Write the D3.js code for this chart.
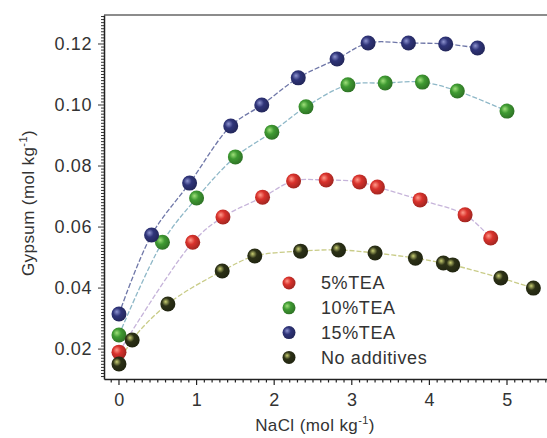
<!DOCTYPE html>
<html>
<head>
<meta charset="utf-8">
<script src="https://cdn.jsdelivr.net/npm/d3@7"></script>
<style>
	body { margin: 0; background: #fff; }
	svg { display: block; font-family: "Liberation Sans", Arial, sans-serif; }
</style>
</head>
<body>
<svg id="chart"></svg>
<script>
const seriesNames = ["5%TEA", "10%TEA", "15%TEA", "No additives"];

const naclRed = [0, 0.95, 1.34, 1.85, 2.25, 2.67, 3.10, 3.33, 3.88, 4.46, 4.79];
const gypRed = [0.019, 0.055, 0.0633, 0.0698, 0.0751, 0.0754, 0.0748, 0.0731, 0.0689, 0.064, 0.0564];

const naclGreen = [0, 0.56, 1.0, 1.5, 1.97, 2.41, 2.95, 3.43, 3.91, 4.36, 5.0];
const gypGreen = [0.0246, 0.055, 0.0695, 0.083, 0.0911, 0.0994, 0.1066, 0.1072, 0.1075, 0.1046, 0.098];

const naclBlue = [0, 0.42, 0.91, 1.44, 1.84, 2.31, 2.81, 3.21, 3.73, 4.21, 4.62];
const gypBlue = [0.0315, 0.0574, 0.0744, 0.0931, 0.100, 0.1089, 0.1151, 0.1203, 0.1203, 0.12, 0.1187];

const naclNone = [0, 0.17, 0.63, 1.33, 1.75, 2.34, 2.83, 3.30, 3.82, 4.18, 4.30, 4.92, 5.34];
const gypNone = [0.0151, 0.023, 0.0348, 0.0456, 0.0505, 0.0521, 0.0525, 0.0515, 0.0498, 0.0482, 0.0476, 0.0433, 0.04];

const xTicks = [0, 1, 2, 3, 4, 5];
const yTicks = [0.02, 0.04, 0.06, 0.08, 0.10, 0.12];

class GypsumChart {
	constructor() {
		this.width = 547;
		this.height = 438;
		this.svg = d3.select("#chart")
			.attr("width", this.width)
			.attr("height", this.height);

		this.left = 104;
		this.top = 15;
		this.bottom = 379;

		this.x = d3.scaleLinear()
			.domain([-0.193, 5.683])
			.range([this.left, 560]);

		this.y = d3.scaleLinear()
			.domain([0.0102, 0.1295])
			.range([this.bottom, this.top]);

		// body colour, highlight colour, line colour
		this.styles = [
			{body: "#d9322c", hi: "#ff9a8a", line: "#c6b4da"},
			{body: "#3f9a32", hi: "#9fe07a", line: "#8fb8c8"},
			{body: "#2f3479", hi: "#8e94d0", line: "#6f77a8"},
			{body: "#2c3116", hi: "#c9cf72", line: "#c9cc88"}
		];

		this.data = [
			naclRed.map((v, i) => [v, gypRed[i]]),
			naclGreen.map((v, i) => [v, gypGreen[i]]),
			naclBlue.map((v, i) => [v, gypBlue[i]]),
			naclNone.map((v, i) => [v, gypNone[i]])
		];
	}

	draw() {
		const defs = this.svg.append("defs");
		this.styles.forEach((s, i) => {
			const g = defs.append("radialGradient")
				.attr("id", "ball" + i)
				.attr("cx", "40%").attr("cy", "40%").attr("r", "60%")
				.attr("fx", "35%").attr("fy", "35%");
			g.append("stop").attr("offset", "0%").attr("stop-color", s.hi);
			g.append("stop").attr("offset", "45%").attr("stop-color", s.body);
			g.append("stop").attr("offset", "100%").attr("stop-color", d3.color(s.body).darker(0.8));
		});

		// frame
		this.svg.append("line")
			.attr("x1", this.left).attr("x2", this.width)
			.attr("y1", this.top).attr("y2", this.top)
			.attr("stroke", "#666").attr("stroke-width", 1.5);

		// x axis, minor ticks every 0.1
		const xMinor = d3.range(-1, 57).map(d => d / 10).filter(d => d >= -0.19);
		this.svg.append("g")
			.selectAll("line")
			.data(xMinor)
			.enter().append("line")
			.attr("x1", d => this.x(d)).attr("x2", d => this.x(d))
			.attr("y1", this.bottom)
			.attr("y2", d => this.bottom + (Math.abs(d - Math.round(d)) < 1e-6 ? 6 : 3.5))
			.attr("stroke", "#222").attr("stroke-width", 1.2);

		this.svg.append("g")
			.attr("transform", `translate(0,${this.bottom})`)
			.call(d3.axisBottom(this.x).tickValues(xTicks).tickSize(0).tickPadding(14).tickFormat(d3.format("d")))
			.call(g => g.select(".domain").attr("stroke", "#222").attr("stroke-width", 1.5))
			.call(g => g.selectAll("text").attr("font-size", 18).attr("fill", "#333")
				.attr("font-family", "Liberation Sans, Arial, sans-serif").attr("letter-spacing", 0.6));

		// y axis, minor ticks every 0.001
		const yMinor = d3.range(11, 130).map(d => d / 1000);
		this.svg.append("g")
			.selectAll("line")
			.data(yMinor)
			.enter().append("line")
			.attr("y1", d => this.y(d)).attr("y2", d => this.y(d))
			.attr("x1", this.left)
			.attr("x2", d => this.left - (Math.round(d * 1000) % 20 === 0 ? 6 : 3))
			.attr("stroke", "#333").attr("stroke-width", 1);

		this.svg.append("g")
			.attr("transform", `translate(${this.left},0)`)
			.call(d3.axisLeft(this.y).tickValues(yTicks).tickSize(0).tickPadding(12).tickFormat(d3.format(".2f")))
			.call(g => g.select(".domain").attr("stroke", "#222").attr("stroke-width", 1.5))
			.call(g => g.selectAll("text").attr("font-size", 18).attr("fill", "#333")
				.attr("font-family", "Liberation Sans, Arial, sans-serif").attr("letter-spacing", 0.6));

		// fitted curves
		const line = d3.line()
			.x(d => this.x(d[0]))
			.y(d => this.y(d[1]))
			.curve(d3.curveCatmullRom.alpha(0.5));

		this.svg.append("g")
			.selectAll("path")
			.data(this.data)
			.enter().append("path")
			.attr("d", line)
			.attr("fill", "none")
			.attr("stroke", (d, i) => this.styles[i].line)
			.attr("stroke-width", 1.3)
			.attr("stroke-dasharray", "5,2");

		// points
		this.svg.append("g")
			.selectAll("g")
			.data(this.data)
			.enter().append("g")
			.attr("fill", (d, i) => `url(#ball${i})`)
			.selectAll("circle")
			.data(d => d)
			.enter().append("circle")
			.attr("cx", d => this.x(d[0]))
			.attr("cy", d => this.y(d[1]))
			.attr("r", 7.5);

		// legend
		const legend = this.svg.append("g");
		seriesNames.forEach((name, i) => {
			const yy = 283 + i * 24.8;
			legend.append("circle")
				.attr("cx", 289).attr("cy", yy).attr("r", 6.5)
				.attr("fill", `url(#ball${i})`);
			legend.append("text")
				.attr("x", 321).attr("y", yy)
				.attr("dy", "0.35em")
				.attr("font-size", 18)
				.attr("letter-spacing", 0.6)
				.attr("fill", "#333")
				.text(name);
		});

		// axis titles
		const xt = this.svg.append("text")
			.attr("x", 315).attr("y", 431)
			.attr("text-anchor", "middle")
			.attr("font-size", 17)
			.attr("letter-spacing", 0.4)
			.attr("fill", "#333")
			.text("NaCl (mol kg");
		xt.append("tspan").attr("dy", -7).attr("font-size", 11).text("-1");
		xt.append("tspan").attr("dy", 7).text(")");

		const yt = this.svg.append("text")
			.attr("transform", "translate(34,203) rotate(-90)")
			.attr("text-anchor", "middle")
			.attr("font-size", 17)
			.attr("letter-spacing", 0.4)
			.attr("fill", "#333")
			.text("Gypsum (mol kg");
		yt.append("tspan").attr("dy", -7).attr("font-size", 11).text("-1");
		yt.append("tspan").attr("dy", 7).text(")");
	}
}

const chart = new GypsumChart();
chart.draw();
</script>
</body>
</html>
